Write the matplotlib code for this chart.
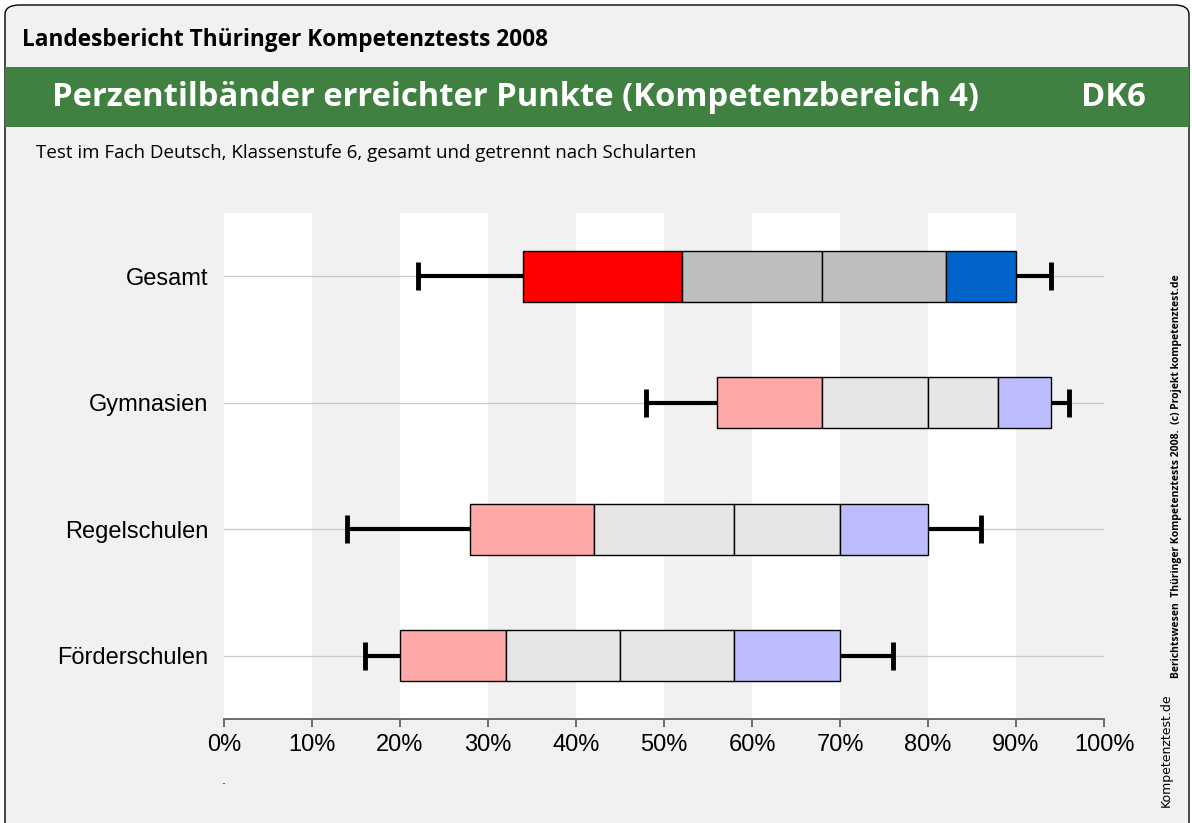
import matplotlib
matplotlib.use("Agg")
import matplotlib.pyplot as plt
from matplotlib.patches import FancyBboxPatch, Rectangle

# ---- Daten (Perzentile in %) ----
kategorien = ["Gesamt", "Gymnasien", "Regelschulen", "Förderschulen"]
p05 = [22, 48, 14, 16]
p10 = [34, 56, 28, 20]
p25 = [52, 68, 42, 32]
p50 = [68, 80, 58, 45]
p75 = [82, 88, 70, 58]
p90 = [90, 94, 80, 70]
p95 = [94, 96, 86, 76]
tick_werte = [0, 10, 20, 30, 40, 50, 60, 70, 80, 90, 100]
tick_labels = [f"{t}%" for t in tick_werte]

# Farben: erste Zeile kräftig, andere blass
farben_gesamt = ["#ff0000", "#bebebe", "#bebebe", "#0064c8"]
farben_schule = ["#ffa8a8", "#e6e6e6", "#e6e6e6", "#bcbcff"]

W, H = 1192, 823
fig = plt.figure(figsize=(W / 100, H / 100), dpi=100, facecolor="white")


def fx(px):
    return px / W


def fy(py):
    return 1 - py / H


# Hintergrund mit abgerundetem Rahmen
bg = FancyBboxPatch((fx(5), fy(900)), fx(1184), fy(5) - fy(900),
                    boxstyle="round,pad=0,rounding_size=0.012",
                    transform=fig.transFigure, facecolor="#f1f1f1",
                    edgecolor="black", linewidth=1.0, zorder=-2)
fig.patches.append(bg)

# grünes Band
band = Rectangle((fx(5), fy(127)), fx(1184), fy(67) - fy(127),
                 transform=fig.transFigure, facecolor="#408142",
                 edgecolor="none", zorder=-1)
fig.patches.append(band)

fig.text(fx(22), fy(40), "Landesbericht Thüringer Kompetenztests 2008",
         fontsize=16.3, fontweight="bold", family="Open Sans", va="center", ha="left")
fig.text(fx(52), fy(98), "Perzentilbänder erreichter Punkte (Kompetenzbereich 4)",
         fontsize=23.6, fontweight="bold", family="Open Sans", color="white",
         va="center", ha="left")
fig.text(fx(1146), fy(98), "DK6", fontsize=23.6, fontweight="bold", family="Open Sans",
         color="white", va="center", ha="right")
fig.text(fx(36), fy(153), "Test im Fach Deutsch, Klassenstufe 6, gesamt und getrennt nach Schularten",
         fontsize=13.5, family="Open Sans", va="center", ha="left")

# Seitentexte
fig.text(fx(1177), fy(476),
         "Berichtswesen  Thüringer Kompetenztests 2008.  (c) Projekt kompetenztest.de",
         fontsize=7.5, fontweight="bold", family="Open Sans", rotation=90,
         va="center", ha="center")
fig.text(fx(1166), fy(750), "Kompetenztest.de", fontsize=9, family="Liberation Sans Narrow",
         rotation=90, va="center", ha="center")
fig.text(fx(224), fy(780), ".", fontsize=9, va="center", ha="center")

# Achsen
ax = fig.add_axes([fx(224), fy(719), fx(1104) - fx(224), fy(213) - fy(719)])
ax.set_zorder(2)
ax.set_facecolor("none")
ax.set_xlim(0, 100)
ax.set_ylim(3.5, -0.5)

for x0 in range(0, 100, 20):
    ax.axvspan(x0, x0 + 10, color="white", zorder=0, linewidth=0)

box_h = 0.4
cap_h = 0.22
for i, name in enumerate(kategorien):
    ax.axhline(i, color="#c8c8c8", linewidth=0.9, zorder=1)
    farben = farben_gesamt if i == 0 else farben_schule
    grenzen = [p10[i], p25[i], p50[i], p75[i], p90[i]]
    for j in range(4):
        ax.barh(i, grenzen[j + 1] - grenzen[j], left=grenzen[j], height=box_h,
                color=farben[j], edgecolor="black", linewidth=1.0, zorder=3)
    ax.plot([p05[i], p10[i]], [i, i], color="black", linewidth=3, zorder=2,
            solid_capstyle="butt")
    ax.plot([p90[i], p95[i]], [i, i], color="black", linewidth=3, zorder=2,
            solid_capstyle="butt")
    for xc in (p05[i], p95[i]):
        ax.plot([xc, xc], [i - cap_h / 2, i + cap_h / 2], color="black",
                linewidth=3.5, zorder=2, solid_capstyle="butt")

ax.set_yticks(range(len(kategorien)))
ax.set_yticklabels(kategorien, fontsize=17, family="Liberation Sans")
ax.tick_params(axis="y", length=0, pad=11)
ax.set_xticks(tick_werte)
ax.set_xticklabels(tick_labels, fontsize=17, family="Liberation Sans")
ax.tick_params(axis="x", length=6, width=1.2, color="#555555", pad=5)
for s in ("top", "right", "left"):
    ax.spines[s].set_visible(False)
ax.spines["bottom"].set_color("#555555")
ax.spines["bottom"].set_linewidth(1.2)

fig.savefig("out.png", dpi=100, facecolor=fig.get_facecolor())
